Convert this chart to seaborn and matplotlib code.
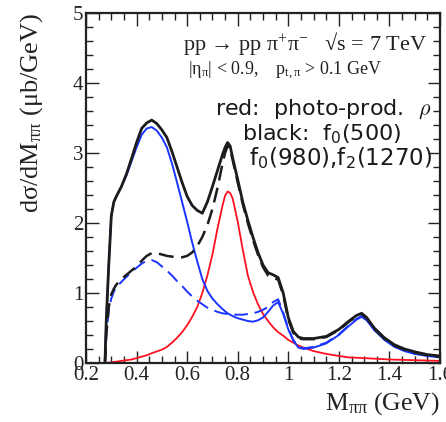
import numpy as np
import pandas as pd
import matplotlib
matplotlib.use("Agg")
import matplotlib.pyplot as plt
from matplotlib.ticker import MultipleLocator
import seaborn as sns

x_main = [0.275, 0.28, 0.29, 0.30, 0.31, 0.32, 0.34, 0.36, 0.38, 0.40, 0.42, 0.44, 0.46, 0.48,
          0.50, 0.52, 0.54, 0.56, 0.58, 0.60, 0.62, 0.64, 0.66, 0.68, 0.70, 0.72, 0.74, 0.75, 0.76,
          0.77, 0.78, 0.80, 0.82, 0.84, 0.86, 0.88, 0.90, 0.92, 0.94, 0.96, 0.98, 1.00, 1.02, 1.04,
          1.06, 1.10, 1.15, 1.20, 1.24, 1.27, 1.29, 1.31, 1.34, 1.38, 1.42, 1.46, 1.50, 1.55, 1.60]

black_solid = [0.0, 0.6, 1.4, 2.1, 2.3, 2.38, 2.52, 2.70, 2.92, 3.15, 3.35, 3.43, 3.47, 3.42,
               3.33, 3.22, 3.02, 2.80, 2.58, 2.38, 2.25, 2.18, 2.14, 2.30, 2.52, 2.75, 2.98, 3.08, 3.15,
               3.10, 2.93, 2.62, 2.30, 2.04, 1.80, 1.58, 1.40, 1.29, 1.26, 1.22, 1.00, 0.65, 0.45, 0.37,
               0.35, 0.35, 0.38, 0.48, 0.60, 0.68, 0.71, 0.65, 0.50, 0.36, 0.26, 0.20, 0.16, 0.12, 0.10]

blue_solid = [0.0, 0.6, 1.4, 2.1, 2.3, 2.38, 2.52, 2.68, 2.88, 3.08, 3.26, 3.35, 3.37, 3.32,
              3.22, 3.08, 2.85, 2.58, 2.30, 2.02, 1.72, 1.45, 1.20, 1.03, 0.92, 0.84, 0.77, 0.74, 0.71,
              0.69, 0.67, 0.64, 0.62, 0.60, 0.59, 0.61, 0.65, 0.73, 0.82, 0.87, 0.70, 0.48, 0.32, 0.22,
              0.20, 0.22, 0.28, 0.40, 0.53, 0.62, 0.66, 0.61, 0.47, 0.33, 0.23, 0.17, 0.13, 0.10, 0.08]

black_dashed = [0.0, 0.4, 0.8, 0.98, 1.06, 1.12, 1.20, 1.26, 1.32, 1.38, 1.46, 1.53, 1.57, 1.57,
                1.55, 1.53, 1.52, 1.51, 1.51, 1.53, 1.58, 1.67, 1.80, 1.97, 2.20, 2.50, 2.85, 3.0, 3.10,
                3.06, 2.90, 2.58, 2.27, 2.00, 1.76, 1.55, 1.37, 1.25, 1.22, 1.19, 0.97, 0.62, 0.43, 0.35,
                0.34, 0.34, 0.37, 0.47, 0.59, 0.67, 0.70, 0.64, 0.49, 0.35, 0.25, 0.19, 0.15, 0.11, 0.09]

blue_dashed = [0.0, 0.4, 0.75, 0.92, 1.02, 1.08, 1.16, 1.23, 1.30, 1.36, 1.42, 1.46, 1.47, 1.44,
               1.38, 1.32, 1.25, 1.17, 1.10, 1.02, 0.95, 0.89, 0.84, 0.79, 0.76, 0.73, 0.71, 0.705, 0.70,
               0.695, 0.69, 0.69, 0.69, 0.70, 0.71, 0.73, 0.76, 0.80, 0.87, 0.91, 0.72, 0.49, 0.33, 0.23,
               0.21, 0.23, 0.29, 0.41, 0.54, 0.63, 0.67, 0.62, 0.48, 0.34, 0.24, 0.18, 0.14, 0.11, 0.09]

x_red = [0.28, 0.30, 0.34, 0.38, 0.40, 0.44, 0.46, 0.50, 0.52, 0.54, 0.56, 0.58, 0.60, 0.62,
         0.64, 0.66, 0.68, 0.70, 0.72, 0.74, 0.75, 0.76, 0.77, 0.78, 0.80, 0.82, 0.84, 0.86, 0.88, 0.90,
         0.92, 0.94, 0.96, 0.98, 1.00, 1.02, 1.04, 1.06, 1.10, 1.15, 1.20, 1.24, 1.30, 1.40, 1.50, 1.60]
red_rho = [0.0, 0.01, 0.03, 0.05, 0.07, 0.11, 0.14, 0.19, 0.23, 0.29, 0.36, 0.44, 0.54, 0.66,
           0.80, 1.00, 1.25, 1.55, 1.92, 2.25, 2.39, 2.45, 2.43, 2.35, 2.02, 1.62, 1.25, 1.02, 0.84, 0.70,
           0.60, 0.51, 0.44, 0.39, 0.33, 0.29, 0.25, 0.22, 0.17, 0.13, 0.10, 0.08, 0.07, 0.05, 0.04, 0.03]

x_ticks = [0.2, 0.4, 0.6, 0.8, 1.0, 1.2, 1.4, 1.6]
x_tick_labels = ["0.2", "0.4", "0.6", "0.8", "1", "1.2", "1.4", "1.6"]
y_ticks = [0, 1, 2, 3, 4, 5]
y_tick_labels = ["0", "1", "2", "3", "4", "5"]

sns.set_theme(style="ticks")
plt.rcParams["font.family"] = ["Liberation Serif", "DejaVu Serif"]
plt.rcParams["mathtext.fontset"] = "custom"
plt.rcParams["mathtext.rm"] = "Liberation Serif"
plt.rcParams["mathtext.it"] = "Liberation Serif:italic"

fig = plt.figure(figsize=(4.46, 4.22), dpi=100)
ax = fig.add_axes([86 / 446, 1 - 363 / 422, 354 / 446, 350 / 422])

df_main = pd.DataFrame({"x": x_main, "bs": black_solid, "bls": blue_solid,
                        "bd": black_dashed, "bld": blue_dashed})
df_red = pd.DataFrame({"x": x_red, "y": red_rho})

blk = "#1c1c1c"
blu = "#1a35ff"
red = "#ff1020"

sns.lineplot(data=df_red, x="x", y="y", ax=ax, color=red, lw=1.3, sort=False)
sns.lineplot(data=df_main, x="x", y="bld", ax=ax, color=blu, lw=1.4, sort=False).lines[-1].set_dashes([7, 3.5])
sns.lineplot(data=df_main, x="x", y="bls", ax=ax, color=blu, lw=1.4, sort=False)
sns.lineplot(data=df_main, x="x", y="bd", ax=ax, color=blk, lw=1.8, sort=False).lines[-1].set_dashes([6, 3])
sns.lineplot(data=df_main, x="x", y="bs", ax=ax, color=blk, lw=2.0, sort=False)

ax.set_xlim(0.2, 1.6)
ax.set_ylim(0, 5)
ax.set_xticks(x_ticks)
ax.set_xticklabels(x_tick_labels)
ax.set_yticks(y_ticks)
ax.set_yticklabels(y_tick_labels)
ax.xaxis.set_minor_locator(MultipleLocator(0.05))
ax.yaxis.set_minor_locator(MultipleLocator(0.2))
ax.tick_params(which="both", direction="in", top=True, right=True, color="#222222")
ax.tick_params(which="major", length=9, width=1.0, labelsize=15, pad=2, labelcolor="#222222")
ax.tick_params(which="minor", length=5, width=1.0)
for s in ax.spines.values():
    s.set_linewidth(1.6)
    s.set_color("#222222")

ax.set_xlabel("M$_{\\mathrm{ππ}}$ (GeV)", fontsize=18.5, loc="right", labelpad=4, color="#222222")
ax.set_ylabel("dσ/dM$_{\\mathrm{ππ}}$ (μb/GeV)", fontsize=19, loc="top", labelpad=20, color="#222222")

ax.text(0.963, 0.912, "pp → pp π$^{+}$π$^{-}$   √s = 7 TeV",
        transform=ax.transAxes, ha="right", va="center", fontsize=16, color="#222222")
ax.text(0.288, 0.834, "|η$_{\\mathrm{π}}$| < 0.9,    p$_{\\mathrm{t, π}}$ > 0.1 GeV",
        transform=ax.transAxes, ha="left", va="center", fontsize=13, color="#222222")

sans = ["DejaVu Sans"]
ax.text(0.975, 0.725, r"red:  photo-prod.  $\rho$", transform=ax.transAxes, ha="right",
        va="center", fontsize=16, family=sans, color="#1a1a1a", math_fontfamily="cm")
ax.text(0.89, 0.655, r"black:  f$_0$(500)", transform=ax.transAxes, ha="right",
        va="center", fontsize=16, family=sans, color="#1a1a1a", math_fontfamily="dejavusans")
ax.text(0.978, 0.586, r"f$_0$(980),f$_2$(1270)", transform=ax.transAxes, ha="right",
        va="center", fontsize=16.5, family=sans, color="#1a1a1a", math_fontfamily="dejavusans")

fig.savefig("out.png", dpi=100)
